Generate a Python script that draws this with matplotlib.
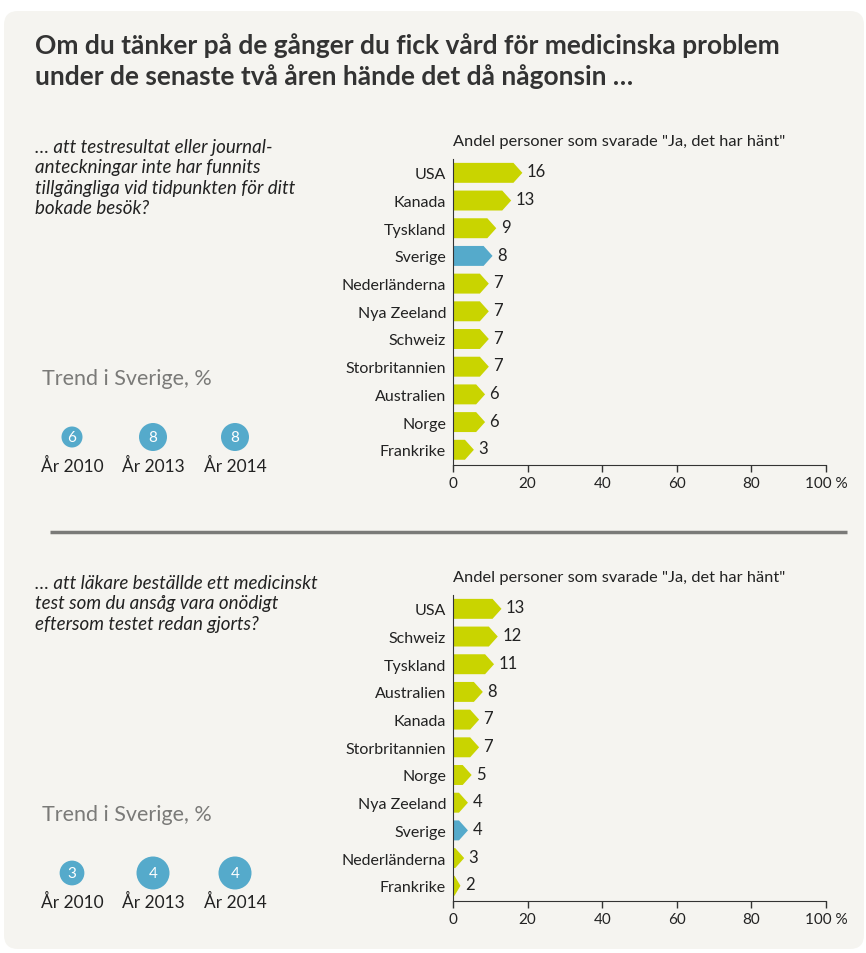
import matplotlib.pyplot as plt
from matplotlib.patches import FancyBboxPatch, Polygon, Circle

plt.rcParams['font.family'] = ['Lato', 'DejaVu Sans']

# ---- data ----
countries_1 = ['USA', 'Kanada', 'Tyskland', 'Sverige', 'Nederländerna', 'Nya Zeeland',
               'Schweiz', 'Storbritannien', 'Australien', 'Norge', 'Frankrike']
values_1 = [16, 13, 9, 8, 7, 7, 7, 7, 6, 6, 3]
countries_2 = ['USA', 'Schweiz', 'Tyskland', 'Australien', 'Kanada', 'Storbritannien',
               'Norge', 'Nya Zeeland', 'Sverige', 'Nederländerna', 'Frankrike']
values_2 = [13, 12, 11, 8, 7, 7, 5, 4, 4, 3, 2]
trend_years = ['År 2010', 'År 2013', 'År 2014']
trend_1 = [6, 8, 8]
trend_2 = [3, 4, 4]

title = ('Om du tänker på de gånger du fick vård för medicinska problem\n'
         'under de senaste två åren hände det då någonsin …')
question_1 = ('… att testresultat eller journal-\nanteckningar inte har funnits\n'
              'tillgängliga vid tidpunkten för ditt\nbokade besök?')
question_2 = ('… att läkare beställde ett medicinskt\ntest som du ansåg vara onödigt\n'
              'eftersom testet redan gjorts?')
header = 'Andel personer som svarade "Ja, det har hänt"'

GREEN = '#c9d400'
BLUE = '#55aacb'
BG = '#f5f4f0'
W, H = 866, 954

fig = plt.figure(figsize=(W / 100, H / 100), dpi=100)
fig.patch.set_facecolor('white')

# overlay in pixel coordinates
bg = fig.add_axes([0, 0, 1, 1])
bg.set_xlim(0, W)
bg.set_ylim(H, 0)
bg.axis('off')
bg.add_patch(FancyBboxPatch((4, 12), W - 6, H - 16, boxstyle='round,pad=0,rounding_size=14',
                            facecolor=BG, edgecolor='none'))
bg.text(35, 33, title, fontsize=19, fontweight='bold', color='#333333',
        va='top', ha='left', linespacing=1.3)
bg.plot([50, 847], [533, 533], color='#7a7a78', lw=2.5, solid_capstyle='butt')


def panel(top, countries, values, trend, question, tip_shift, rmax):
    y0 = top          # top of bar axes (px)
    y1 = top + 306    # axis line (px)
    ax = fig.add_axes([453 / W, 1 - y1 / H, (826 - 453) / W, (y1 - y0) / H])
    ax.set_facecolor('none')
    ax.set_xlim(0, 100)
    ax.set_ylim(len(values) - 0.45, -0.5)
    h = 0.36
    tip = 2.4
    for i, (c, v) in enumerate(zip(countries, values)):
        col = BLUE if c == 'Sverige' else GREEN
        end = v + tip_shift
        rect_end = max(end - tip, 0.4)
        poly = Polygon([(0, i - h), (rect_end, i - h), (end, i), (rect_end, i + h), (0, i + h)],
                       closed=True, facecolor=col, edgecolor='none')
        ax.add_patch(poly)
        ax.text(end + 1.2, i - 0.05, str(v), va='center', ha='left', fontsize=12, color='#222222')
    ax.set_yticks(range(len(countries)))
    ax.set_yticklabels(countries, fontsize=11.5, color='#222222')
    ax.tick_params(axis='y', length=0, pad=5)
    ax.set_xticks([0, 20, 40, 60, 80, 100])
    ax.set_xticklabels(['0', '20', '40', '60', '80', '100 %'], fontsize=11, color='#222222')
    ax.tick_params(axis='x', length=5, width=1, direction='out', color='#333333', pad=3)
    for s in ['top', 'right']:
        ax.spines[s].set_visible(False)
    ax.spines['left'].set_color('#333333')
    ax.spines['bottom'].set_color('#333333')
    ax.text(0, -0.9, header, fontsize=11.8, color='#222222', ha='left', va='bottom')

    bg.text(35, top - 21, question, fontsize=13.5, style='italic', color='#222222',
            va='top', ha='left', linespacing=1.25)
    bg.text(42, top + 219, 'Trend i Sverige, %', fontsize=15.5, color='#7a7a78',
            va='center', ha='left')
    vmax = max(trend)
    for x, yr, v in zip([72, 153, 235], trend_years, trend):
        r = rmax * v / vmax
        bg.add_patch(Circle((x, top + 278), r, facecolor=BLUE, edgecolor='none'))
        bg.text(x, top + 278, str(v), color='white', fontsize=11, ha='center', va='center')
        bg.text(x, top + 306, yr, color='#222222', fontsize=12.5, ha='center', va='center')


panel(160, countries_1, values_1, trend_1, question_1, 2.6, 14)
panel(596, countries_2, values_2, trend_2, question_2, 0.0, 16.5)

fig.savefig('out.png', dpi=100, facecolor='white')
